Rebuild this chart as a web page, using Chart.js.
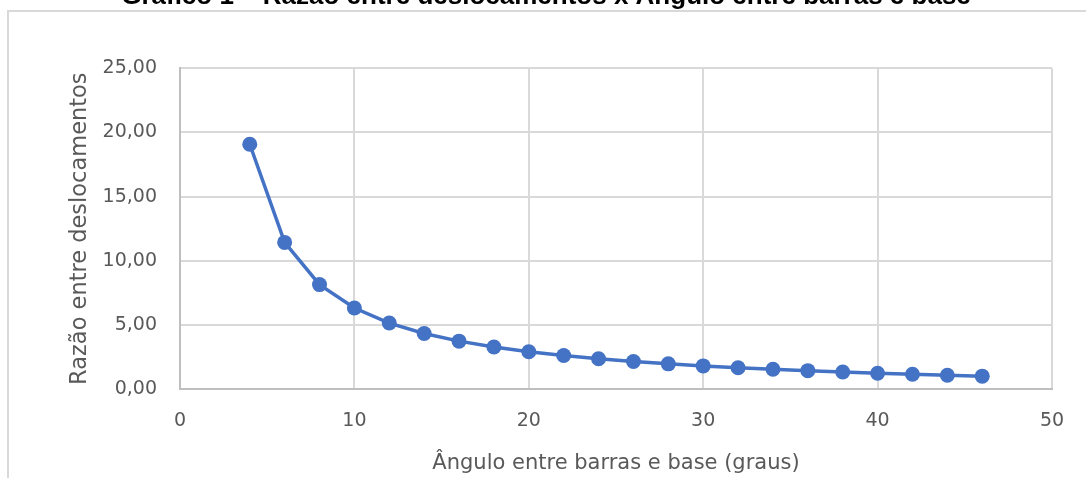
<!DOCTYPE html>
<html>
<head>
<meta charset="utf-8">
<script src="https://cdn.jsdelivr.net/npm/chart.js@4"></script>
<style>
  html, body { margin: 0; padding: 0; background: #fff; overflow: hidden; width: 1086px; height: 478px; }
  #moldura { position: absolute; left: 7px; top: 10px; width: 1300px; height: 700px; border: 2px solid #d9d9d9; }
  #grafico { position: absolute; left: 0; top: -20px; }
</style>
</head>
<body>
<div id="moldura"></div>
<canvas id="grafico" width="1086" height="498"></canvas>
<script>
// angulo entre barras e base (graus)
const angulos = [4, 6, 8, 10, 12, 14, 16, 18, 20, 22, 24, 26, 28, 30, 32, 34, 36, 38, 40, 42, 44, 46];
// razao entre deslocamentos
const razoes = [19.08, 11.43, 8.14, 6.31, 5.14, 4.33, 3.73, 3.27, 2.90, 2.61, 2.36, 2.14,
                1.96, 1.80, 1.66, 1.54, 1.43, 1.33, 1.23, 1.15, 1.07, 1.00];

const titulo = 'Gráfico 1 – Razão entre deslocamentos x Ângulo entre barras e base';
const tituloX = 'Ângulo entre barras e base (graus)';
const tituloY = 'Razão entre deslocamentos';

const cinza = '#595959';
const fonte = 'DejaVu Sans';

const pontos = angulos.map((a, i) => ({ x: a, y: razoes[i] }));

const ctx = document.getElementById('grafico').getContext('2d');
const chart = new Chart(ctx, {
  type: 'scatter',
  data: {
    datasets: [{
      data: pontos,
      showLine: true,
      borderColor: '#4472c4',
      backgroundColor: '#4472c4',
      borderWidth: 3.5,
      pointRadius: 7.5,
      pointBorderWidth: 0,
      tension: 0
    }]
  },
  options: {
    responsive: false,
    animation: false,
    devicePixelRatio: 1,
    layout: { padding: { left: 40, right: 34, top: 0, bottom: 0 } },
    plugins: {
      legend: { display: false },
      tooltip: { enabled: false },
      title: {
        display: true,
        text: titulo,
        color: '#000',
        font: { family: 'Liberation Sans', size: 26, weight: 'bold' },
        padding: { top: 1.3, bottom: 55.8 }
      }
    },
    scales: {
      x: {
        type: 'linear',
        min: 0,
        max: 50,
        ticks: {
          stepSize: 10,
          color: cinza,
          padding: 21,
          font: { family: fonte, size: 19 }
        },
        grid: { color: '#d9d9d9', lineWidth: 2, drawTicks: false },
        border: { color: '#bfbfbf', width: 2 },
        title: {
          display: true,
          text: tituloX,
          color: cinza,
          font: { family: fonte, size: 21 },
          padding: { top: 0, bottom: 2 }
        },
        afterFit: (s) => { s.height = 89; }
      },
      y: {
        min: 0,
        max: 25,
        ticks: {
          stepSize: 5,
          color: cinza,
          padding: 23,
          font: { family: fonte, size: 19 },
          callback: (v) => v.toFixed(2).replace('.', ',')
        },
        grid: { color: '#d9d9d9', lineWidth: 2, drawTicks: false },
        border: { color: '#bfbfbf', width: 2 },
        title: {
          display: true,
          text: tituloY,
          color: cinza,
          font: { family: fonte, size: 22.5 },
          padding: { top: 26.5, bottom: 0 }
        },
        afterFit: (s) => { s.width = 140; }
      }
    }
  }
});
</script>
</body>
</html>
